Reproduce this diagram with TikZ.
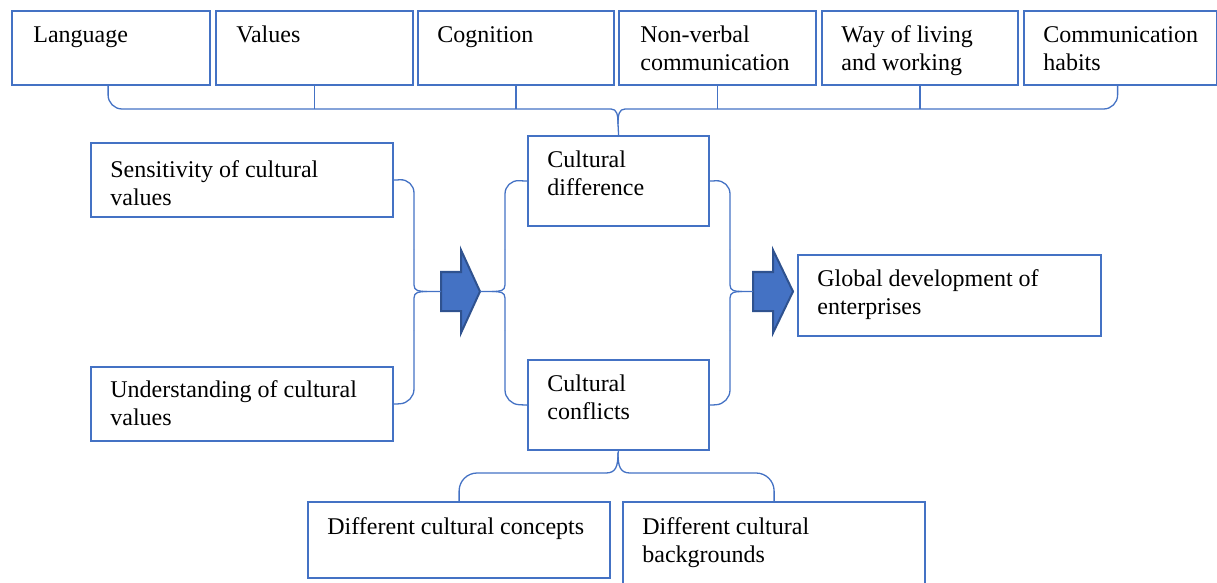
\documentclass[tikz,border=0pt]{standalone}
\usepackage{fontspec}
\setmainfont{Liberation Serif}
\usetikzlibrary{calc}
\definecolor{obl}{HTML}{4472C4}
\definecolor{odk}{HTML}{2F528F}
\begin{document}
\begin{tikzpicture}[x=0.5pt,y=-0.5pt,
  box/.style={draw=obl, line width=1.1pt, anchor=north west, inner sep=0pt, fill=white},
  txt/.style={anchor=north west, inner sep=0pt, align=left, font=\fontsize{12}{14.25}\selectfont},
  conn/.style={draw=obl, line width=0.65pt},
  blockarrow/.style={fill=obl, draw=odk, line width=1pt, line join=miter}]
\useasboundingbox (0,0) rectangle (1217,583);
% boxes
\node[box, minimum width=99pt,   minimum height=37pt] (lang) at (11,10) {};
\node[box, minimum width=98.5pt, minimum height=37pt] (val)  at (215,10) {};
\node[box, minimum width=98pt,   minimum height=37pt] (cog)  at (417,10) {};
\node[box, minimum width=98.5pt, minimum height=37pt] (nonv) at (618,10) {};
\node[box, minimum width=98pt,   minimum height=37pt] (way)  at (821,10) {};
\node[box, minimum width=96.5pt, minimum height=37pt] (comm) at (1023,10) {};
\node[box, minimum width=151pt,  minimum height=37pt] (sens) at (90,142) {};
\node[box, minimum width=151pt,  minimum height=37pt] (und)  at (90,366) {};
\node[box, minimum width=90.5pt, minimum height=45pt] (cd)   at (527,135) {};
\node[box, minimum width=90.5pt, minimum height=45pt] (cc)   at (527,359) {};
\node[box, minimum width=151.5pt,minimum height=40.5pt] (glob) at (797,254) {};
\node[box, minimum width=151pt,  minimum height=38pt] (dcc)  at (307,501) {};
\node[box, minimum width=151pt,  minimum height=45pt] (dcb)  at (622,501) {};
% texts
\node[txt] (lang-t) at (33,22) {\rule{0pt}{10pt}Language};
\node[txt] (val-t)  at (236,22) {\rule{0pt}{10pt}Values};
\node[txt] (cog-t)  at (437,22) {\rule{0pt}{10pt}Cognition};
\node[txt] (nonv-t) at (640,22) {\rule{0pt}{10pt}Non-verbal\\communication};
\node[txt] (way-t)  at (841,22) {\rule{0pt}{10pt}Way of living\\and working};
\node[txt] (comm-t) at (1043,22) {\rule{0pt}{10pt}Communication\\habits};
\node[txt] (sens-t) at (110,157) {\rule{0pt}{10pt}Sensitivity of cultural\\values};
\node[txt] (und-t)  at (110,377) {\rule{0pt}{10pt}Understanding of cultural\\values};
\node[txt] (cd-t)   at (547,147) {\rule{0pt}{10pt}Cultural\\difference};
\node[txt] (cc-t)   at (547,371) {\rule{0pt}{10pt}Cultural\\conflicts};
\node[txt] (glob-t) at (817,266) {\rule{0pt}{10pt}Global development of\\enterprises};
\node[txt] (dcc-t)  at (327,514) {\rule{0pt}{10pt}Different cultural concepts};
\node[txt] (dcb-t)  at (642,514) {\rule{0pt}{10pt}Different cultural\\backgrounds};
% block arrows
\coordinate (a1tail) at (441,291.5);
\coordinate (a1tip)  at (480,291.5);
\coordinate (a2tail) at (753,291.5);
\coordinate (a2tip)  at (793,291.5);
\draw[blockarrow] (441,272) -- (461,272) -- (461,250) -- (a1tip) -- (461,333) -- (461,311) -- (441,311) -- cycle;
\draw[blockarrow] (753,272) -- (773,272) -- (773,250) -- (a2tip) -- (773,333) -- (773,311) -- (753,311) -- cycle;
% top brace
\coordinate (tt) at (618,124);
\draw[conn, rounded corners=7] ($(lang.south)+(-3,0)$) |- (300,109) -- (611,109);
\draw[conn] (611,109) .. controls (617,109) and (618,115) .. (tt) -- (cd.north);
\draw[conn] (625,109) .. controls (619,109) and (618,115) .. (tt);
\draw[conn, rounded corners=7] (625,109) -- (900,109) -| ($(comm.south)+(-3,0)$);
\draw[conn] (val.south) -- (val.south |- 0,109);
\draw[conn] (cog.south) -- (cog.south |- 0,109);
\draw[conn] (nonv.south) -- (nonv.south |- 0,109);
\draw[conn] (way.south) -- (way.south |- 0,109);
% left brace
\draw[conn, rounded corners=7] (sens.east) -- (414,179) -- (414,250);
\draw[conn] (414,250) -- (414,285) .. controls (414,291) and (419,291.5) .. (427,291.5) -- (a1tail);
\draw[conn, rounded corners=7] (und.east) -- (414,403) -- (414,330);
\draw[conn] (414,330) -- (414,298) .. controls (414,292) and (419,291.5) .. (427,291.5);
% brace after arrow 1
\draw[conn] (a1tip) -- (492,291.5) .. controls (500,291.5) and (505,291) .. (505,285) -- (505,250);
\draw[conn, rounded corners=7] (505,250) -- (505,180) -- (cd.west);
\draw[conn] (492,291.5) .. controls (500,291.5) and (505,292) .. (505,298) -- (505,330);
\draw[conn, rounded corners=7] (505,330) -- (505,404) -- (cc.west);
% brace before arrow 2
\draw[conn, rounded corners=7] (cd.east) -- (730,180) -- (730,250);
\draw[conn] (730,250) -- (730,285) .. controls (730,291) and (735,291.5) .. (742,291.5) -- (a2tail);
\draw[conn, rounded corners=7] (cc.east) -- (730,404) -- (730,330);
\draw[conn] (730,330) -- (730,298) .. controls (730,292) and (735,291.5) .. (742,291.5);
% bottom brace
\coordinate (bt) at (618,453);
\draw[conn] (cc.south) -- (bt);
\draw[conn] (bt) .. controls (618,466) and (616,473) .. (606,473);
\draw[conn] (bt) .. controls (618,466) and (620,473) .. (630,473);
\draw[conn, rounded corners=9] (606,473) -| (dcc.north);
\draw[conn, rounded corners=9] (630,473) -| (dcb.north);
\end{tikzpicture}
\end{document}
